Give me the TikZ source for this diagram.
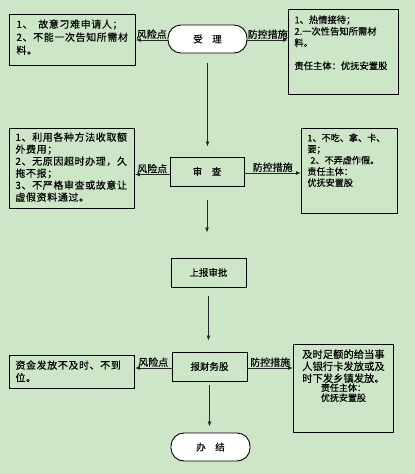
\documentclass[tikz,border=0pt]{standalone}
\usepackage{fontspec}
\newfontfamily\cjk[FakeBold=0.3]{Noto Sans CJK SC}
\newfontfamily\cjkw[LetterSpace=6,FakeBold=0.3]{Noto Sans CJK SC}
\usetikzlibrary{arrows.meta}
\definecolor{bg}{RGB}{205,230,200}
\definecolor{ln}{RGB}{40,40,40}
\newcommand\tb[3]{\parbox[t][#2][t]{#1}{#3}}
\begin{document}
\begin{tikzpicture}[x=1pt,y=-1pt,
  font=\cjk\fontsize{9.5}{12}\selectfont,
  box/.style={draw=black, line width=0.9pt, anchor=north west, inner xsep=6pt, inner ysep=5pt},
  flow/.style={draw=black, line width=0.9pt, minimum width=75pt, minimum height=29pt, inner sep=0pt, font=\cjk\fontsize{9.5}{12}\selectfont},
  term/.style={flow, rounded corners=13pt, fill=white, minimum width=79pt, minimum height=28pt},
  arr/.style={draw=ln, line width=0.8pt, -{Latex[length=5pt,width=4pt]}},
  lab/.style={above, inner sep=0.8pt, font=\cjk\fontsize{10}{12}\selectfont}]
\fill[bg] (0,0) rectangle (415,474);
\useasboundingbox (0,0) rectangle (415,474);

% flow nodes
\node[term] (shou) at (207.5,39) {受\quad 理};
\node[flow, minimum width=74pt] (shen) at (207,171.5) {审\quad 查};
\node[flow] (shangbao) at (208.5,272.5) {上报审批};
\node[flow] (baocai) at (209.5,366.5) {报财务股};
\node[term] (banjie) at (210.5,447) {办\quad 结};

% left boxes
\node[box, inner xsep=7pt] (L1) at (9,14) {\tb{112pt}{41pt}{\cjkw\fontsize{10}{13}\selectfont
1、\ \ 故意刁难申请人；\\2、不能一次告知所需材\\料。}};
\node[box, inner ysep=4pt] (L2) at (9,128) {\tb{113pt}{72pt}{\cjkw\fontsize{10}{12}\selectfont
1、利用各种方法收取额\\外费用；\\2、无原因超时办理，久\\拖不报；\\3、不严格审查或故意让\\虚假资料通过。}};
\node[box] (L4) at (9,355) {\tb{113pt}{23pt}{\cjkw\fontsize{10}{12.5}\selectfont
资金发放不及时、不到\\位。}};

% right boxes
\node[box, inner ysep=6pt] (R1) at (288,9) {\tb{98pt}{73pt}{\fontsize{9.3}{11.5}\selectfont
1、热情接待；\\2.一次性告知所需材\\料。\\[11.5pt]责任主体：优抚安置股}};
\node[box] (R2) at (301,128) {\tb{84pt}{75pt}{\fontsize{9.1}{11.2}\selectfont
1、不吃、拿、卡、\\要；\\\hspace*{3pt}2、不弄虚作假。\\责任主体：\\优抚安置股}};
\node[box, inner xsep=5pt] (R4) at (293,344) {\tb{90pt}{78pt}{\centering\fontsize{10.3}{12}\selectfont
及时足额的给当事\\人银行卡发放或及\\时下发乡镇发放。\\[-1pt]{\fontsize{9}{10}\selectfont 责任主体：\\优抚安置股\par}}};

% vertical flow
\draw[arr, shorten <=10pt, shorten >=10pt] (shou.south) -- (shou.south |- shen.north);
\draw[arr, shorten <=14pt, shorten >=25pt] (shen.south) -- (shen.south |- shangbao.north);
\draw[arr, shorten <=9pt, shorten >=11pt] (shangbao.south) -- (shangbao.south |- baocai.north);
\draw[arr, shorten <=4pt, shorten >=6pt] (baocai.south) -- (baocai.south |- banjie.north);

% horizontal connectors
\coordinate (c1) at ([yshift=-1pt]shou.west);
\coordinate (c2) at ([yshift=-1pt]shou.east);
\draw[arr] (c1) -- (c1 -| L1.east) node[lab, midway] {风险点};
\draw[arr] (c2) -- (c2 -| R1.west) node[lab, midway] {防控措施};

\coordinate (c3) at ([yshift=-3pt]shen.west);
\coordinate (c4) at ([yshift=-1.5pt]shen.east);
\draw[arr] (c3) -- (c3 -| L2.east) node[lab, midway] {风险点};
\draw[arr] (c4) -- (c4 -| R2.west) node[lab, midway] {防控措施};

\coordinate (c5) at ([yshift=-1.5pt]baocai.west);
\coordinate (c6) at ([yshift=-1.5pt]baocai.east);
\draw[arr] (c5) -- (c5 -| L4.east) node[lab, midway] {风险点};
\draw[arr] (c6) -- (c6 -| R4.west) node[lab, midway] {防控措施};
\end{tikzpicture}
\end{document}
